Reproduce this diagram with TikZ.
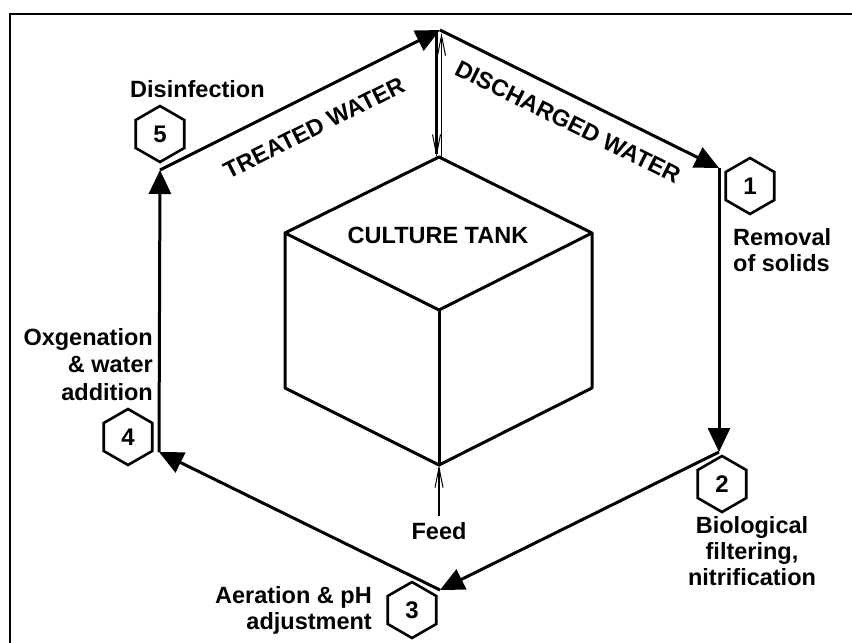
\documentclass[tikz,border=0pt]{standalone}
\usepackage{fontspec}
\setmainfont{Liberation Sans}
\usetikzlibrary{arrows.meta,shapes.geometric}
\begin{document}
\begin{tikzpicture}[x=1pt,y=-1pt,
  flow/.style={line width=3pt,-{Triangle[length=24pt,width=22pt]}},
  thinarrow/.style={-{Straight Barb[length=20pt,width=8pt,line width=1pt]}},
  hexnum/.style={draw,line width=2.6pt,regular polygon,regular polygon sides=6,
    shape border rotate=90,minimum size=56pt,inner sep=0pt,
    font=\fontsize{24}{26}\selectfont\bfseries},
  lbl/.style={inner sep=0pt,font=\fontsize{23.5}{26}\selectfont\bfseries},
  cubeline/.style={line width=3pt,line join=round}]
\useasboundingbox (0,0) rectangle (852,643);
% frame
\draw[line width=2pt] (10,643) -- (10,14) -- (852,14);
% loop vertices
\coordinate (T) at (440,30);
\coordinate (V1) at (719,168);
\coordinate (V2) at (719,452);
\coordinate (V3) at (440,590);
\coordinate (V4) at (159,452);
\coordinate (V5) at (160,170);
\draw[flow] (T) -- (V1);
\draw[flow] (V1) -- (V2);
\draw[flow] (V2) -- (V3);
\draw[flow] (V3) -- (V4);
\draw[flow] (V4) -- (V5);
\draw[flow] (V5) -- (T);
% cube
\coordinate (Ct) at (439,157);
\coordinate (Cl) at (285,233);
\coordinate (Cr) at (592,233);
\coordinate (Cf) at (439,310);
\coordinate (Cbl) at (285,388);
\coordinate (Cbr) at (592,388);
\coordinate (Cb) at (439,465);
\draw[cubeline] (Ct) -- (Cr) -- (Cf) -- (Cl) -- cycle;
\draw[cubeline] (Cl) -- (Cbl) -- (Cb) -- (Cbr) -- (Cr);
\draw[cubeline] (Cf) -- (Cb);
\node[lbl] (tank) at (438,235) {CULTURE TANK};
% exchange arrows between top vertex and tank
\coordinate (Ta) at (436.5,30);
\coordinate (Tb) at (441.5,33);
\coordinate (Ca) at (436.5,157);
\coordinate (Cc) at (441.5,157);
\draw[line width=2.5pt,thinarrow] (Ta) -- (Ca);
\draw[line width=1.3pt,thinarrow] (Cc) -- (Tb);
% feed
\coordinate (F) at (439,516);
\draw[line width=2pt,thinarrow] (F) -- (Cb);
\node[lbl,anchor=north] (feed) at (439,522) {Feed};
% edge labels
\node[lbl,rotate=-26.3] (dis) at (568,122) {DISCHARGED WATER};
\node[lbl,rotate=26.6] (trt) at (314,128) {TREATED WATER};
% step hexagons
\node[hexnum] (h1) at (750,186) {1};
\node[hexnum] (h2) at (722,484) {2};
\node[hexnum] (h3) at (412,610) {3};
\node[hexnum] (h4) at (128,437) {4};
\node[hexnum] (h5) at (160,134) {5};
% step labels
\node[lbl,anchor=north west,align=left] (l1) at (733,228) {Removal\\of solids};
\node[lbl,anchor=north,align=center] (l2) at (752,516) {Biological\\filtering,\\nitrification};
\node[lbl,anchor=north east,align=right] (l3) at (372,586) {Aeration \& pH\\adjustment};
\node[lbl,anchor=north east,align=right,font=\fontsize{23.5}{27.5}\selectfont\bfseries] (l4) at (153,328) {Oxgenation\\\& water\\addition};
\node[lbl,anchor=north west] (l5) at (130,80) {Disinfection};
\end{tikzpicture}
\end{document}
